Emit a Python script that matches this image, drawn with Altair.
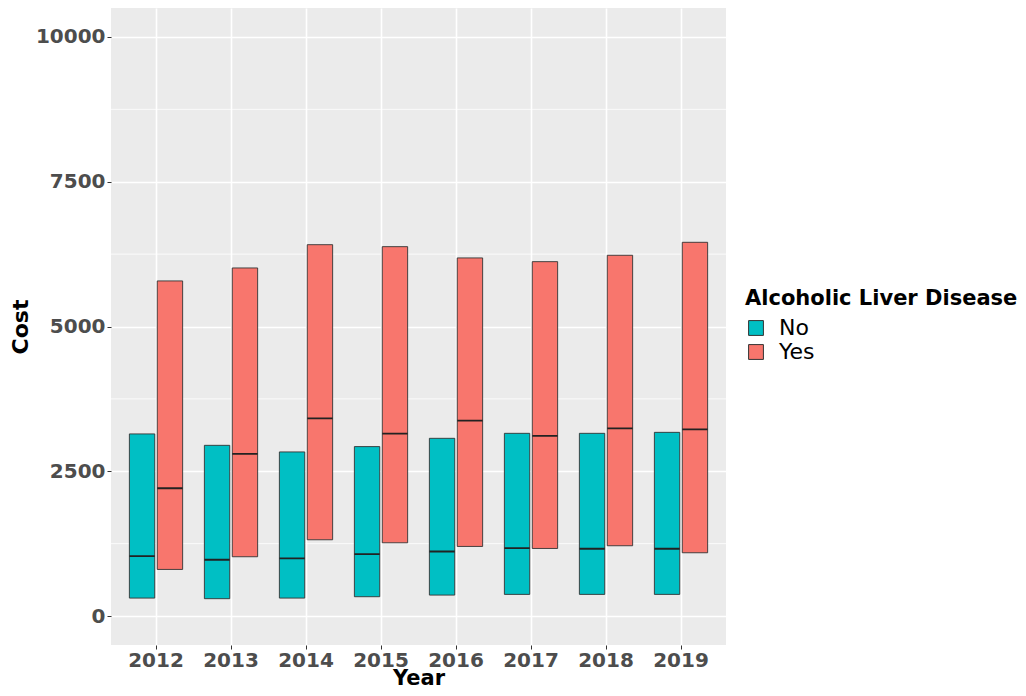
import altair as alt
import pandas as pd

years = ["2012", "2013", "2014", "2015", "2016", "2017", "2018", "2019"]
groups = ["No", "Yes"]

no_q1 = [310, 300, 310, 334, 362, 374, 374, 374]
no_med = [1034, 972, 995, 1069, 1115, 1172, 1162, 1162]
no_q3 = [3145, 2948, 2834, 2926, 3069, 3155, 3155, 3172]

yes_q1 = [805, 1024, 1317, 1265, 1202, 1167, 1214, 1093]
yes_med = [2207, 2800, 3414, 3150, 3374, 3110, 3241, 3224]
yes_q3 = [5787, 6011, 6413, 6379, 6184, 6120, 6230, 6454]

major_breaks = [0, 2500, 5000, 7500, 10000]
minor_breaks = [1250, 3750, 6250, 8750]

rows = []
for i, y in enumerate(years):
    rows.append({"Year": y, "Group": "No", "q1": no_q1[i], "med": no_med[i], "q3": no_q3[i]})
    rows.append({"Year": y, "Group": "Yes", "q1": yes_q1[i], "med": yes_med[i], "q3": yes_q3[i]})
df = pd.DataFrame(rows)
minor_df = pd.DataFrame({"v": minor_breaks})

FONT = "DejaVu Sans"

y_scale = alt.Scale(domain=[-500, 10500], nice=False, zero=False)
y_axis = alt.Axis(
    title="Cost", values=major_breaks, format="d", grid=True, gridColor="white", gridWidth=1.6,
    domain=False, tickColor="#333333", tickSize=4, tickWidth=1,
    labelFont=FONT, labelFontSize=20, labelFontWeight="bold", labelColor="#4D4D4D",
    labelPadding=2, titleFont=FONT, titleFontSize=22, titleFontWeight="bold",
    titleColor="black", titlePadding=3,
)
x_axis = alt.Axis(
    title="Year", labelAngle=0, grid=True, gridColor="white", gridWidth=1.6,
    bandPosition=0.5, domain=False, tickColor="#333333", tickSize=4, tickWidth=1,
    labelFont=FONT, labelFontSize=20, labelFontWeight="bold", labelColor="#4D4D4D",
    labelPadding=1, titleFont=FONT, titleFontSize=21, titleFontWeight="bold",
    titleColor="black", titlePadding=-3,
)
x_enc = alt.X("Year:N", sort=years, scale=alt.Scale(paddingInner=0.29, paddingOuter=0.245), axis=x_axis)
xo_enc = alt.XOffset("Group:N", sort=groups, scale=alt.Scale(paddingInner=0.09, paddingOuter=0))

minor = alt.Chart(minor_df).mark_rule(color="white", strokeWidth=0.8).encode(
    y=alt.Y("v:Q", scale=y_scale, axis=y_axis)
)

boxes = alt.Chart(df).mark_bar(stroke="#333333", strokeWidth=0.9).encode(
    x=x_enc,
    xOffset=xo_enc,
    y=alt.Y("q1:Q", scale=y_scale, axis=y_axis),
    y2="q3:Q",
    color=alt.Color(
        "Group:N",
        scale=alt.Scale(domain=groups, range=["#00BFC4", "#F8766D"]),
        legend=alt.Legend(
            title="Alcoholic Liver Disease", orient="none", legendX=634, legendY=280,
            titleFont=FONT, titleFontSize=21, titleFontWeight="bold", titleColor="black",
            titleLimit=400, titlePadding=8, labelFont=FONT, labelFontSize=22, labelColor="black",
            labelOffset=12, symbolType="square", symbolSize=220,
            symbolStrokeColor="#333333", symbolStrokeWidth=1, symbolOpacity=1,
            rowPadding=2,
        ),
    ),
)

medians = alt.Chart(df).mark_bar(fillOpacity=0, stroke="#222222", strokeWidth=1.8).encode(
    x=x_enc,
    xOffset=xo_enc,
    y=alt.Y("med:Q", scale=y_scale, axis=y_axis),
    y2="med:Q",
)

chart = alt.layer(minor, boxes, medians).properties(
    width=615, height=637,
    autosize=alt.AutoSizeParams(type="none"),
    padding={"left": 103, "top": 0, "right": 292, "bottom": 43},
).configure_view(fill="#EBEBEB", stroke=None)

chart.save("out.html", embed_options={"renderer": "svg", "actions": False})
